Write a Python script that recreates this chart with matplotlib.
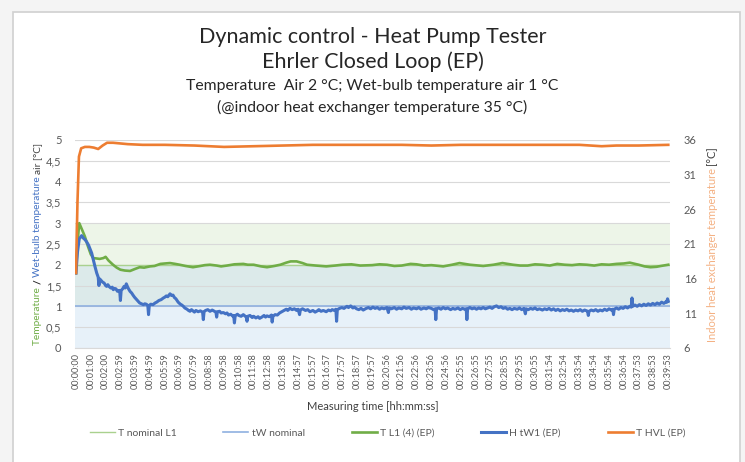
import matplotlib
matplotlib.use("Agg")
import matplotlib.pyplot as plt
from matplotlib.patches import Rectangle

plt.rcParams['font.family'] = ['Lato', 'DejaVu Sans']

# x axis: minute index -> label text
tick_labels = ['00:00:00', '00:01:00', '00:02:00', '00:02:59', '00:03:59', '00:04:59',
               '00:05:59', '00:06:59', '00:07:59', '00:08:58', '00:09:58', '00:10:58',
               '00:11:58', '00:12:58', '00:13:58', '00:14:57', '00:15:57', '00:16:57',
               '00:17:57', '00:18:57', '00:19:57', '00:20:56', '00:21:56', '00:22:56',
               '00:23:56', '00:24:56', '00:25:55', '00:26:55', '00:27:55', '00:28:55',
               '00:29:55', '00:30:55', '00:31:54', '00:32:54', '00:33:54', '00:34:54',
               '00:35:54', '00:36:54', '00:37:53', '00:38:53', '00:39:53']

# nominal values and tolerance bands (left axis)
t_nominal = 2.0
tw_nominal = 1.0
tolerance = 1.0
band_t = [-0.05, 40.1]

# T L1 (4) (EP)  [minute, deg C] on left axis
green_pts = [
    (0.00, 1.80), (0.10, 2.50), (0.22, 3.00), (0.40, 2.85), (0.60, 2.68), (0.80, 2.45),
    (1.00, 2.25), (1.17, 2.16), (1.40, 2.15), (1.60, 2.14), (1.85, 2.16), (2.00, 2.19),
    (2.20, 2.10), (2.50, 2.00), (2.75, 1.93), (3.00, 1.88), (3.30, 1.86), (3.65, 1.85),
    (4.00, 1.90), (4.30, 1.94), (4.60, 1.93), (5.00, 1.96), (5.30, 1.97), (5.70, 2.02),
    (6.00, 2.03), (6.35, 2.04), (6.70, 2.02), (7.00, 2.00), (7.40, 1.97), (7.90, 1.94),
    (8.40, 1.97), (8.70, 1.99), (9.05, 2.00), (9.50, 1.98), (9.80, 1.96), (10.20, 1.98),
    (10.70, 2.01), (11.30, 2.02), (11.60, 2.00), (12.00, 2.00), (12.50, 1.96),
    (12.90, 1.94), (13.40, 1.97), (13.80, 2.00), (14.20, 2.05), (14.50, 2.08),
    (14.90, 2.08), (15.30, 2.04), (15.60, 2.00), (16.20, 1.98), (16.90, 1.96),
    (17.50, 1.98), (18.00, 2.00), (18.60, 2.01), (19.20, 1.98), (20.00, 1.99),
    (20.50, 2.01), (21.00, 2.00), (21.50, 1.97), (22.00, 1.98), (22.60, 2.02),
    (23.00, 2.01), (23.50, 1.98), (24.00, 1.99), (24.80, 1.96), (25.40, 2.00),
    (25.90, 2.04), (26.60, 2.00), (27.50, 1.97), (28.20, 2.00), (28.80, 2.04),
    (29.50, 2.00), (30.00, 1.98), (30.50, 1.98), (31.00, 2.01), (31.50, 2.00),
    (32.00, 1.98), (32.50, 2.02), (33.00, 2.00), (33.50, 1.99), (34.00, 2.01),
    (34.50, 2.00), (35.00, 1.98), (35.50, 2.01), (36.00, 2.00), (36.50, 2.02),
    (37.00, 2.03), (37.40, 2.05), (38.00, 2.00), (38.40, 1.96), (38.80, 1.94),
    (39.20, 1.95), (39.50, 1.97), (40.00, 2.00)]

# H tW1 (EP)  [minute, deg C] on left axis
blue_pts = [
    (0.00, 1.80), (0.10, 2.30), (0.22, 2.62), (0.38, 2.70), (0.50, 2.64), (0.62, 2.60),
    (0.72, 2.55), (0.85, 2.47), (0.95, 2.38), (1.06, 2.28), (1.18, 2.10), (1.28, 1.96),
    (1.40, 1.80), (1.50, 1.70), (1.55, 1.50), (1.60, 1.66), (1.70, 1.62), (1.80, 1.58),
    (1.90, 1.56), (2.00, 1.50), (2.07, 1.48), (2.15, 1.52), (2.25, 1.47), (2.35, 1.44),
    (2.45, 1.46), (2.52, 1.40), (2.60, 1.43), (2.70, 1.42), (2.80, 1.36), (2.90, 1.38),
    (2.95, 1.38), (3.00, 1.14), (3.05, 1.38), (3.15, 1.42), (3.25, 1.48), (3.32, 1.44),
    (3.40, 1.54), (3.48, 1.47), (3.55, 1.42), (3.65, 1.36), (3.76, 1.32), (3.85, 1.27),
    (3.95, 1.22), (4.05, 1.18), (4.15, 1.14), (4.30, 1.08), (4.42, 1.06), (4.55, 1.04),
    (4.65, 1.06), (4.75, 1.05), (4.85, 1.02), (4.90, 0.80), (4.95, 1.02), (5.05, 1.05),
    (5.20, 1.04), (5.34, 1.08), (5.45, 1.10), (5.60, 1.14), (5.75, 1.16), (5.90, 1.20),
    (6.00, 1.22), (6.10, 1.25), (6.20, 1.23), (6.35, 1.30), (6.45, 1.26), (6.55, 1.27),
    (6.65, 1.21), (6.75, 1.18), (6.90, 1.10), (7.05, 1.05), (7.15, 1.03), (7.25, 1.00),
    (7.35, 0.96), (7.50, 0.93), (7.60, 0.90), (7.70, 0.88), (7.80, 0.92), (7.90, 0.89),
    (8.00, 0.86), (8.10, 0.90), (8.25, 0.87), (8.40, 0.89), (8.55, 0.86), (8.60, 0.68),
    (8.65, 0.87), (8.75, 0.90), (8.90, 0.92), (9.05, 0.88), (9.20, 0.91), (9.30, 0.89),
    (9.45, 0.86), (9.50, 0.74), (9.55, 0.87), (9.70, 0.88), (9.80, 0.84), (9.95, 0.85),
    (10.10, 0.82), (10.20, 0.84), (10.30, 0.79), (10.45, 0.81), (10.60, 0.76),
    (10.65, 0.78), (10.70, 0.60), (10.75, 0.77), (10.90, 0.81), (11.00, 0.78),
    (11.15, 0.76), (11.30, 0.80), (11.40, 0.77), (11.50, 0.74), (11.55, 0.64),
    (11.60, 0.76), (11.75, 0.78), (11.90, 0.73), (12.00, 0.76), (12.15, 0.72),
    (12.30, 0.75), (12.40, 0.71), (12.55, 0.74), (12.70, 0.78), (12.80, 0.74),
    (12.90, 0.77), (13.05, 0.75), (13.20, 0.79), (13.25, 0.62), (13.30, 0.76),
    (13.45, 0.80), (13.60, 0.79), (13.75, 0.84), (13.90, 0.87), (14.05, 0.90),
    (14.20, 0.93), (14.30, 0.90), (14.45, 0.95), (14.60, 0.92), (14.75, 0.94),
    (14.90, 0.90), (15.00, 0.93), (15.10, 0.80), (15.15, 0.91), (15.30, 0.94),
    (15.50, 0.90), (15.65, 0.92), (15.80, 0.87), (16.00, 0.90), (16.15, 0.86),
    (16.30, 0.89), (16.40, 0.92), (16.55, 0.88), (16.70, 0.90), (16.90, 0.87),
    (17.05, 0.91), (17.20, 0.89), (17.30, 0.92), (17.45, 0.90), (17.55, 0.93),
    (17.60, 0.64), (17.65, 0.92), (17.80, 0.95), (17.95, 0.97), (18.10, 0.95),
    (18.30, 1.00), (18.40, 0.97), (18.55, 1.01), (18.70, 0.96), (18.80, 0.98),
    (18.95, 0.94), (19.10, 0.92), (19.25, 0.95), (19.40, 0.91), (19.60, 0.95),
    (19.75, 0.97), (19.90, 0.94), (20.05, 0.98), (20.20, 0.95), (20.35, 0.97),
    (20.50, 0.93), (20.65, 0.96), (20.80, 0.94), (21.00, 0.97), (21.10, 0.85),
    (21.15, 0.96), (21.30, 0.94), (21.50, 0.97), (21.65, 0.93), (21.80, 0.96),
    (22.00, 0.94), (22.15, 0.98), (22.30, 0.95), (22.50, 0.97), (22.65, 0.93),
    (22.80, 0.96), (23.00, 0.94), (23.15, 0.97), (23.30, 0.93), (23.50, 0.96),
    (23.65, 0.94), (23.80, 0.97), (24.00, 0.95), (24.15, 0.92), (24.25, 0.94),
    (24.30, 0.68), (24.35, 0.94), (24.50, 0.96), (24.65, 0.93), (24.80, 0.97),
    (24.95, 0.94), (25.10, 0.96), (25.30, 0.92), (25.45, 0.95), (25.60, 0.93),
    (25.80, 0.96), (25.95, 0.92), (26.10, 0.95), (26.25, 0.93), (26.35, 0.94),
    (26.40, 0.68), (26.45, 0.94), (26.60, 0.97), (26.75, 0.94), (26.90, 0.96),
    (27.05, 0.93), (27.20, 0.96), (27.35, 0.94), (27.50, 0.97), (27.65, 0.94),
    (27.80, 0.96), (27.95, 0.98), (28.10, 0.95), (28.25, 0.99), (28.40, 1.01),
    (28.55, 0.97), (28.70, 0.99), (28.85, 0.95), (29.00, 0.97), (29.15, 0.93),
    (29.30, 0.95), (29.45, 0.92), (29.60, 0.95), (29.80, 0.93), (29.95, 0.96),
    (30.10, 0.92), (30.25, 0.95), (30.35, 0.82), (30.40, 0.94), (30.55, 0.92),
    (30.70, 0.95), (30.85, 0.93), (31.00, 0.96), (31.15, 0.92), (31.30, 0.94),
    (31.50, 0.91), (31.65, 0.94), (31.80, 0.92), (31.95, 0.95), (32.10, 0.91),
    (32.25, 0.94), (32.40, 0.90), (32.55, 0.93), (32.70, 0.89), (32.85, 0.92),
    (33.00, 0.90), (33.15, 0.93), (33.30, 0.89), (33.45, 0.91), (33.60, 0.88),
    (33.75, 0.91), (33.90, 0.89), (34.05, 0.92), (34.20, 0.88), (34.35, 0.91),
    (34.50, 0.89), (34.55, 0.88), (34.60, 0.78), (34.65, 0.88), (34.80, 0.91),
    (34.95, 0.89), (35.10, 0.92), (35.25, 0.88), (35.40, 0.91), (35.55, 0.89),
    (35.70, 0.93), (35.85, 0.90), (36.00, 0.94), (36.15, 0.91), (36.25, 0.93),
    (36.30, 0.80), (36.35, 0.93), (36.50, 0.96), (36.65, 0.93), (36.80, 0.97),
    (36.95, 0.95), (37.10, 0.99), (37.25, 0.96), (37.40, 1.00), (37.50, 0.98),
    (37.55, 1.20), (37.60, 1.00), (37.75, 1.03), (37.90, 1.00), (38.05, 1.04),
    (38.20, 1.01), (38.35, 1.05), (38.50, 1.02), (38.65, 1.06), (38.80, 1.03),
    (38.95, 1.07), (39.10, 1.04), (39.25, 1.08), (39.40, 1.05), (39.55, 1.10),
    (39.70, 1.07), (39.85, 1.11), (39.90, 1.10), (39.95, 1.18), (40.00, 1.12)]

# T HVL (EP)  [minute, deg C] on right axis
orange_pts = [
    (0.00, 16.8), (0.10, 27.0), (0.20, 33.6), (0.35, 34.8), (0.60, 35.0), (0.90, 35.0),
    (1.20, 34.9), (1.50, 34.7), (1.80, 35.2), (2.10, 35.6), (2.50, 35.6), (3.00, 35.5),
    (3.50, 35.4), (4.50, 35.3), (6.00, 35.3), (8.00, 35.2), (10.00, 35.0), (12.00, 35.1),
    (14.00, 35.2), (16.00, 35.3), (18.00, 35.3), (20.00, 35.3), (22.00, 35.3),
    (24.00, 35.2), (26.00, 35.3), (28.00, 35.3), (30.00, 35.3), (32.00, 35.3),
    (34.00, 35.3), (35.50, 35.1), (36.50, 35.2), (38.00, 35.2), (40.00, 35.3)]

green_t, green_v = zip(*green_pts)
blue_t, blue_v = zip(*blue_pts)
orange_t, orange_v = zip(*orange_pts)

c_green = '#70ad47'
c_blue = '#4472c4'
c_orange = '#ed7d31'
c_text = '#595959'

fig = plt.figure(figsize=(7.45, 4.62), dpi=100)
fig.patch.set_facecolor('#f4f4f4')
fig.patches.append(Rectangle((13 / 745, -0.05), (740 - 13) / 745, 1 - 12 / 462 + 0.05,
                             transform=fig.transFigure, facecolor='white',
                             edgecolor='#d0d0d0', lw=1.2, zorder=-5))

ax = fig.add_axes([0.101, 0.247, 0.798, 0.450])
ax.patch.set_alpha(0)
ax2 = ax.twinx()

# tolerance bands
ax.fill_between(band_t, t_nominal - tolerance, t_nominal + tolerance,
                color='#c5e0b4', alpha=0.3, lw=0, zorder=0)
ax.fill_between(band_t, tw_nominal - tolerance, tw_nominal + tolerance,
                color='#bdd7ee', alpha=0.35, lw=0, zorder=0)
l1, = ax.plot(band_t, [t_nominal, t_nominal], color='#a9d18e', lw=1.0, zorder=1)
l2, = ax.plot(band_t, [tw_nominal, tw_nominal], color='#8fb0e0', lw=1.2, zorder=1)

l3, = ax.plot(green_t, green_v, color=c_green, lw=1.9, zorder=3)
l4, = ax.plot(blue_t, blue_v, color=c_blue, lw=2.2, zorder=4)
l5, = ax2.plot(orange_t, orange_v, color=c_orange, lw=1.9, zorder=3)

ax.set_xlim(-0.05, 40.1)
ax.set_ylim(0, 5)
ax2.set_ylim(6, 36)
yt = [i * 0.5 for i in range(11)]
ax.set_yticks(yt)
ax.set_yticklabels([('%g' % v).replace('.', ',') for v in yt])
ax2.set_yticks([6, 11, 16, 21, 26, 31, 36])
ax.set_xticks(range(len(tick_labels)))
ax.set_xticklabels(tick_labels, rotation=90)
ax.grid(axis='y', color='#d9d9d9', lw=0.8, zorder=0)
ax.set_axisbelow(True)

for a in (ax, ax2):
    for s in a.spines.values():
        s.set_visible(False)
    a.tick_params(length=0, colors=c_text, labelsize=8)
ax.spines['bottom'].set_visible(True)
ax.spines['bottom'].set_color('#d9d9d9')
ax.tick_params(axis='x', labelsize=6.5, pad=4)
ax.tick_params(axis='y', pad=10)
ax2.tick_params(axis='y', pad=10)

ax.set_xlabel('Measuring time [hh:mm:ss]', fontsize=8, color='#404040', labelpad=8)

# title block
fig.text(0.5, 1 - 37 / 462, 'Dynamic control - Heat Pump Tester', ha='center', va='center',
         fontsize=15.5, color='#262626')
fig.text(0.5, 1 - 62 / 462, 'Ehrler Closed Loop (EP)', ha='center', va='center',
         fontsize=15.5, color='#262626')
fig.text(0.5, 1 - 86 / 462, 'Temperature  Air 2 °C; Wet-bulb temperature air 1 °C',
         ha='center', va='center', fontsize=11.3, color='#262626')
fig.text(0.5, 1 - 107 / 462, '(@indoor heat exchanger temperature 35 °C)',
         ha='center', va='center', fontsize=11.3, color='#262626')


def vertical_label(x, yc, pieces, size):
    fig.canvas.draw()
    r = fig.canvas.get_renderer()
    texts, hs = [], []
    for s, c, w in pieces:
        t = fig.text(x, 0, s, color=c, rotation=90, ha='center', va='bottom',
                     fontsize=size, fontweight=w)
        hs.append(t.get_window_extent(r).height)
        texts.append(t)
    y = yc * fig.bbox.height - sum(hs) / 2
    for t, h in zip(texts, hs):
        t.set_y(y / fig.bbox.height)
        y += h


vertical_label(38 / 745, 0.472, [('Temperature ', c_green, 'normal'),
                                 ('/ ', '#262626', 'bold'),
                                 ('Wet-bulb temperature ', c_blue, 'normal'),
                                 ('air [°C]', '#404040', 'normal')], 7.3)
vertical_label(712 / 745, 0.472, [('Indoor heat exchanger temperature ', '#f4b183', 'normal'),
                                  ('[°C]', '#404040', 'normal')], 8)

fig.legend([l1, l2, l3, l4, l5],
           ['T nominal L1', 'tW nominal', 'T L1 (4) (EP)', 'H tW1 (EP)', 'T HVL (EP)'],
           loc='center', bbox_to_anchor=(0.52, 1 - 433 / 462), ncol=5, frameon=False,
           fontsize=7.5, labelcolor=c_text, handlelength=2.4, handletextpad=0.3,
           columnspacing=4.5)

fig.savefig('out.png', dpi=100, facecolor=fig.get_facecolor())
